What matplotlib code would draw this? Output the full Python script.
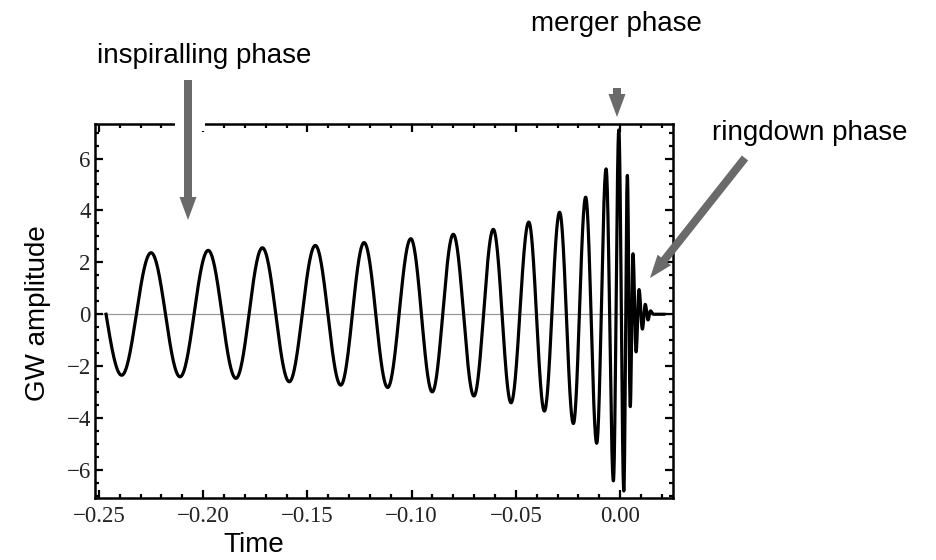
import numpy as np
import matplotlib
matplotlib.use("Agg")
import matplotlib.pyplot as plt
from matplotlib.patches import FancyArrow, Rectangle
from matplotlib.transforms import IdentityTransform
from matplotlib.ticker import MultipleLocator

# Turning points of the chirp waveform (time, amplitude)
peak_times = [-0.2466, -0.2391, -0.2250, -0.2111, -0.1976, -0.1843, -0.1716,
              -0.1587, -0.1462, -0.1340, -0.1228, -0.1115, -0.1004, -0.0901,
              -0.0800, -0.0701, -0.0608, -0.0523, -0.0438, -0.0363, -0.0290,
              -0.0224, -0.0165, -0.0112, -0.0067, -0.0032, -0.0006, 0.0018,
              0.0035, 0.0049, 0.0062, 0.0077, 0.0091, 0.0107, 0.0121, 0.0134,
              0.0146, 0.0160, 0.0210]
peak_values = [0.0, -2.35, 2.37, -2.41, 2.46, -2.47, 2.56, -2.60, 2.65, -2.73,
               2.76, -2.82, 2.91, -2.99, 3.08, -3.15, 3.27, -3.41, 3.55, -3.73,
               3.93, -4.21, 4.51, -4.97, 5.60, -6.42, 7.10, -6.81, 5.35, -3.56,
               2.33, -1.45, 0.95, -0.57, 0.38, -0.22, 0.13, 0.0, 0.0]

x_ticks = [-0.25, -0.20, -0.15, -0.10, -0.05, 0.00]
y_ticks = [-6, -4, -2, 0, 2, 4, 6]

W, H = 936, 560
fig = plt.figure(figsize=(W / 100, H / 100), dpi=100)


def fx(px):
    return px / W


def fy(py):
    return 1 - py / H


ax = fig.add_axes([fx(95), fy(498), fx(673) - fx(95), fy(124) - fy(498)])

# smooth waveform: cosine-shaped half cycles between successive turning points
ts, ys = [], []
for i in range(len(peak_times) - 1):
    t0, t1 = peak_times[i], peak_times[i + 1]
    y0, y1 = peak_values[i], peak_values[i + 1]
    s = np.linspace(0, 1, 60, endpoint=False)
    if i == 0:
        seg = y0 + (y1 - y0) * np.sin(0.5 * np.pi * s)
    else:
        seg = y0 + (y1 - y0) * (1 - np.cos(np.pi * s)) / 2
    ts.append(t0 + (t1 - t0) * s)
    ys.append(seg)
ts.append([peak_times[-1]])
ys.append([peak_values[-1]])
t = np.concatenate(ts)
y = np.concatenate(ys)

ax.axhline(0, color="#9a9a9a", lw=0.9, zorder=1)
ax.plot(t, y, color="black", lw=2.3, zorder=2, solid_joinstyle="round")

ax.set_xlim(-0.2519, 0.0254)
ax.set_ylim(-7.08, 7.33)

ax.set_xticks(x_ticks)
ax.set_yticks(y_ticks)
ax.xaxis.set_minor_locator(MultipleLocator(0.01))
ax.yaxis.set_minor_locator(MultipleLocator(0.5))
ax.tick_params(which="both", direction="in", top=True, right=True,
               width=1.6, colors="black")
ax.tick_params(which="major", length=5.5)
ax.tick_params(which="minor", length=3)
ax.tick_params(axis="x", which="major", pad=6)
ax.tick_params(axis="y", which="major", pad=3)
for sp in ax.spines.values():
    sp.set_linewidth(1.8)

ax.set_xticklabels([("%.2f" % v).replace("-", "\u2212") for v in x_ticks],
                   family="Liberation Serif", color="#222222", fontsize=16.5)
ax.set_yticklabels([("%d" % v).replace("-", "\u2212") for v in y_ticks],
                   family="Liberation Serif", color="#222222", fontsize=16.5)

sans = "Liberation Sans"
fs = 20
fig.text(fx(254), fy(545), "Time", ha="center", va="center",
         fontsize=fs, family=sans)
fig.text(fx(38), fy(313), "GW amplitude", ha="center", va="center",
         rotation=90, fontsize=fs, family=sans)
fig.text(fx(204), fy(56), "inspiralling phase", ha="center", va="center",
         fontsize=fs, family=sans)
fig.text(fx(616), fy(24), "merger phase", ha="center", va="center",
         fontsize=fs, family=sans)
fig.text(fx(810), fy(133), "ringdown phase", ha="center", va="center",
         fontsize=fs, family=sans)

# white break in the top frame where the arrow crosses it
fig.add_artist(Rectangle((175, H - 131), 30, 14, transform=IdentityTransform(),
                         facecolor="white", edgecolor="none", zorder=5))

arrow_color = "#6a6a6a"


def arrow(x0, y0, x1, y1):
    fig.add_artist(FancyArrow(x0, H - y0, x1 - x0, -(y1 - y0), width=8,
                              head_width=17, head_length=23,
                              length_includes_head=True,
                              transform=IdentityTransform(),
                              facecolor=arrow_color, edgecolor="none",
                              zorder=6))


arrow(188, 80, 188, 220)
arrow(617, 88, 617, 117)
arrow(745, 158, 650, 278)

fig.savefig("out.png", dpi=100)
